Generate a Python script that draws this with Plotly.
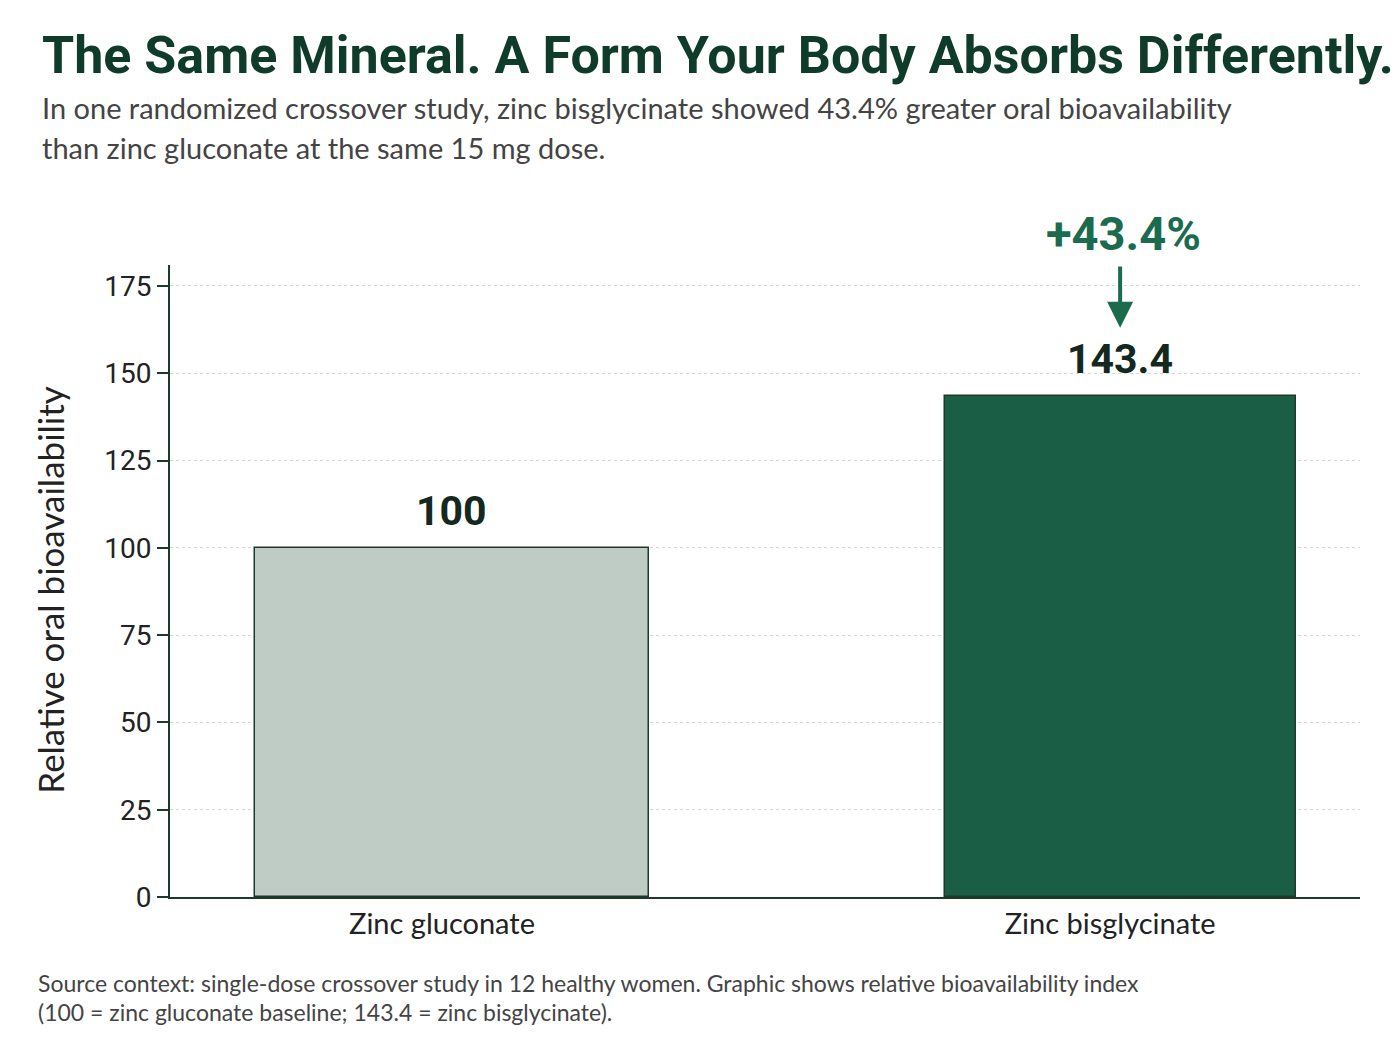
import plotly.graph_objects as go

# bioavailability index, gluconate = 100 baseline
forms = ["Zinc gluconate", "Zinc bisglycinate"]
index_values = [100, 143.4]
value_labels = ["100", "143.4"]
gain_label = "+43.4%"
y_ticks = [0, 25, 50, 75, 100, 125, 150, 175]

title = "The Same Mineral. A Form Your Body Absorbs Differently."
subtitle = [
    "In one randomized crossover study, zinc bisglycinate showed 43.4% greater oral bioavailability",
    "than zinc gluconate at the same 15 mg dose.",
]
footer = [
    "Source context: single-dose crossover study in 12 healthy women. Graphic shows relative bioavailability index",
    "(100 = zinc gluconate baseline; 143.4 = zinc bisglycinate).",
]

DARK = "#1c3a2c"
GREEN = "#1b6b4f"
TEXT_FONT = "Lato"
NUM_FONT = "Roboto"
Y_TOP = 181

fig = go.Figure()
fig.add_trace(go.Bar(
    x=forms,
    y=index_values,
    width=[0.59, 0.525],
    marker=dict(color=["#bfccc5", "#1a5e45"], line=dict(color=DARK, width=1.5)),
    hoverinfo="skip",
))

# value labels above the bars
for f, v, lab in zip(forms, index_values, value_labels):
    fig.add_annotation(x=f, y=v, text="<b>%s</b>" % lab, showarrow=False,
                       yanchor="bottom", yshift=11,
                       font=dict(family=NUM_FONT, size=41, color="#13281e"))

# the gain callout with its arrow
fig.add_annotation(x=forms[1], y=163, ax=forms[1], ay=Y_TOP, axref="x", ayref="y",
                   text="", showarrow=True, arrowhead=2, arrowsize=1.3,
                   arrowwidth=4, arrowcolor=GREEN)
fig.add_annotation(x=forms[1], xref="x", y=1, yref="paper", text="<b>%s</b>" % gain_label,
                   showarrow=False, yanchor="middle", yshift=32, xshift=3,
                   font=dict(family=NUM_FONT, size=47, color=GREEN))

# headline texts (paper coords, left aligned at page x~40)
left = -0.109
fig.add_annotation(xref="paper", yref="paper", x=left, y=1.332, xanchor="left", yanchor="middle",
                   text="<b>%s</b>" % title, showarrow=False,
                   font=dict(family=NUM_FONT, size=52, color="#0f3b2a"))
for i, line in enumerate(subtitle):
    fig.add_annotation(xref="paper", yref="paper", x=left, y=1.25 - i * 0.0633,
                       xanchor="left", yanchor="middle", text=line, showarrow=False,
                       font=dict(family=TEXT_FONT, size=29, color="#444444"))
for i, line in enumerate(footer):
    fig.add_annotation(xref="paper", yref="paper", x=-0.1124, y=-0.136 - i * 0.046,
                       xanchor="left", yanchor="middle", text=line, showarrow=False,
                       font=dict(family=TEXT_FONT, size=23, color="#444444"))

fig.add_annotation(xref="paper", yref="paper", x=-0.101, y=0.486, textangle=-90,
                   xanchor="center", yanchor="middle",
                   text="Relative oral bioavailability", showarrow=False,
                   font=dict(family=TEXT_FONT, size=35, color="#222222"))

fig.update_layout(
    width=1400, height=1050,
    margin=dict(l=162, r=48, t=257, b=161),
    paper_bgcolor="white", plot_bgcolor="white",
    showlegend=False,
    bargap=0,
)
fig.update_xaxes(range=[-0.422, 1.359], showline=True, linecolor=DARK, linewidth=2,
                 showgrid=False, ticks="", ticklabelshift=-10,
                 tickfont=dict(family=TEXT_FONT, size=29, color="#222222"))
fig.update_yaxes(range=[0, Y_TOP], tickvals=y_ticks, showline=True, linecolor=DARK, linewidth=2,
                 ticks="outside", ticklen=11, tickwidth=2, tickcolor=DARK,
                 showgrid=True, gridcolor="#d6d6d6", griddash="dot", gridwidth=1,
                 zeroline=False,
                 tickfont=dict(family=NUM_FONT, size=28, color="#222222"))

fig.write_html("out.html")
